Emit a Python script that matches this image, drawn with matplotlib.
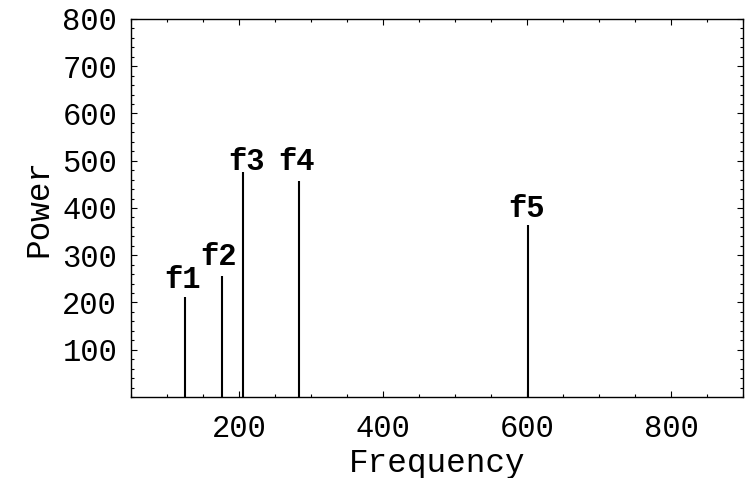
import matplotlib
matplotlib.use("Agg")
import matplotlib.pyplot as plt
from matplotlib.ticker import MultipleLocator, FixedLocator

# peaks
peak_freq   = [125, 177, 205, 284, 601]
peak_power  = [211, 255, 477, 457, 365]
peak_names  = ["f1", "f2", "f3", "f4", "f5"]
label_freq  = [121, 172, 211, 280, 600]
label_power = [231, 279, 480, 480, 381]

y_ticks = [100, 200, 300, 400, 500, 600, 700, 800]
x_ticks = [200, 400, 600, 800]

MONO = ["Liberation Mono", "DejaVu Sans Mono"]

fig = plt.figure(figsize=(7.51, 4.78), dpi=100)
ax = fig.add_axes([0.1744, 0.1695, 0.8149, 0.7908])

ax.vlines(peak_freq, 0, peak_power, color="black", linewidth=1.5)
for name, lx, ly in zip(peak_names, label_freq, label_power):
    ax.text(lx, ly, name, ha="center", va="baseline", fontsize=22,
            fontweight="bold", family=MONO, color="black")

ax.set_xlim(50, 900)
ax.set_ylim(0, 800)
ax.xaxis.set_major_locator(FixedLocator(x_ticks))
ax.yaxis.set_major_locator(FixedLocator(y_ticks))
ax.xaxis.set_minor_locator(MultipleLocator(50))
ax.yaxis.set_minor_locator(MultipleLocator(20))

ax.tick_params(which="both", direction="in", top=True, right=True,
               width=0.8, colors="black")
ax.tick_params(which="major", length=4.5, labelsize=22)
ax.tick_params(axis="y", which="major", pad=10)
ax.tick_params(axis="x", which="major", pad=12)
ax.tick_params(which="minor", length=2.5)
for lab in ax.get_xticklabels() + ax.get_yticklabels():
    lab.set_family(MONO)

for sp in ax.spines.values():
    sp.set_linewidth(1.0)

ax.set_xlabel("Frequency", fontsize=23.5, family=MONO, labelpad=3)
ax.set_ylabel("Power", fontsize=23.5, family=MONO, labelpad=6)

fig.savefig("out.png", dpi=100)
